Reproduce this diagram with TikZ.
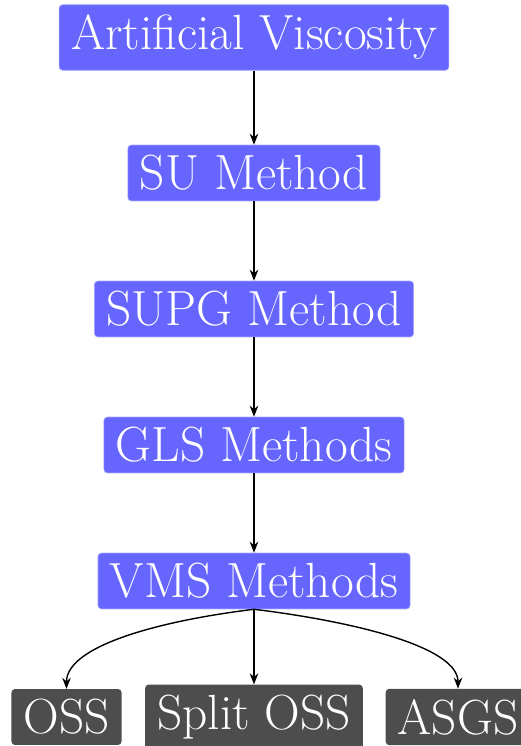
\documentclass[tikz,border=0pt]{standalone}
\usetikzlibrary{arrows.meta}
\definecolor{methodblue}{HTML}{6666FF}
\definecolor{methodedge}{HTML}{A8A8FF}
\definecolor{leafgray}{HTML}{4D4D4D}
\begin{document}
% y axis points downwards, so angles turn clockwise on the page
\begin{tikzpicture}[x=1pt,y=-1pt,
  box/.style={rounded corners=3.5pt, inner xsep=12pt, inner ysep=10.3pt,
    text=white, font=\fontsize{49.4}{59}\selectfont},
  method/.style={box, fill=methodblue, draw=methodedge, line width=0.6pt},
  leaf/.style={box, fill=leafgray},
  link/.style={line width=1.4pt, -{Stealth[length=11pt,width=8.5pt,inset=3.5pt]}}]
\useasboundingbox (0,0) rectangle (520,746);
\node[method] (av)   at (254,37.5)  {Artificial Viscosity};
\node[method] (su)   at (254,173)   {SU Method};
\node[method] (supg) at (254,309)   {SUPG Method};
\node[method] (gls)  at (254,445)   {GLS Methods};
\node[method] (vms)  at (254,581)   {VMS Methods};
\node[leaf]   (oss)  at (66.5,717)  {OSS};
\node[leaf]   (split) at (254,717)  {Split OSS};
\node[leaf]   (asgs) at (458,717)   {ASGS};
\draw[link] (av) -- (su);
\draw[link] (su) -- (supg);
\draw[link] (supg) -- (gls);
\draw[link] (gls) -- (vms);
\draw[link] (vms.south) .. controls +(173:100) and +(270:42) .. (oss.north);
\draw[link] (vms.south) -- (split.north);
\draw[link] (vms.south) .. controls +(7:100) and +(270:42) .. (asgs.north);
\end{tikzpicture}
\end{document}
